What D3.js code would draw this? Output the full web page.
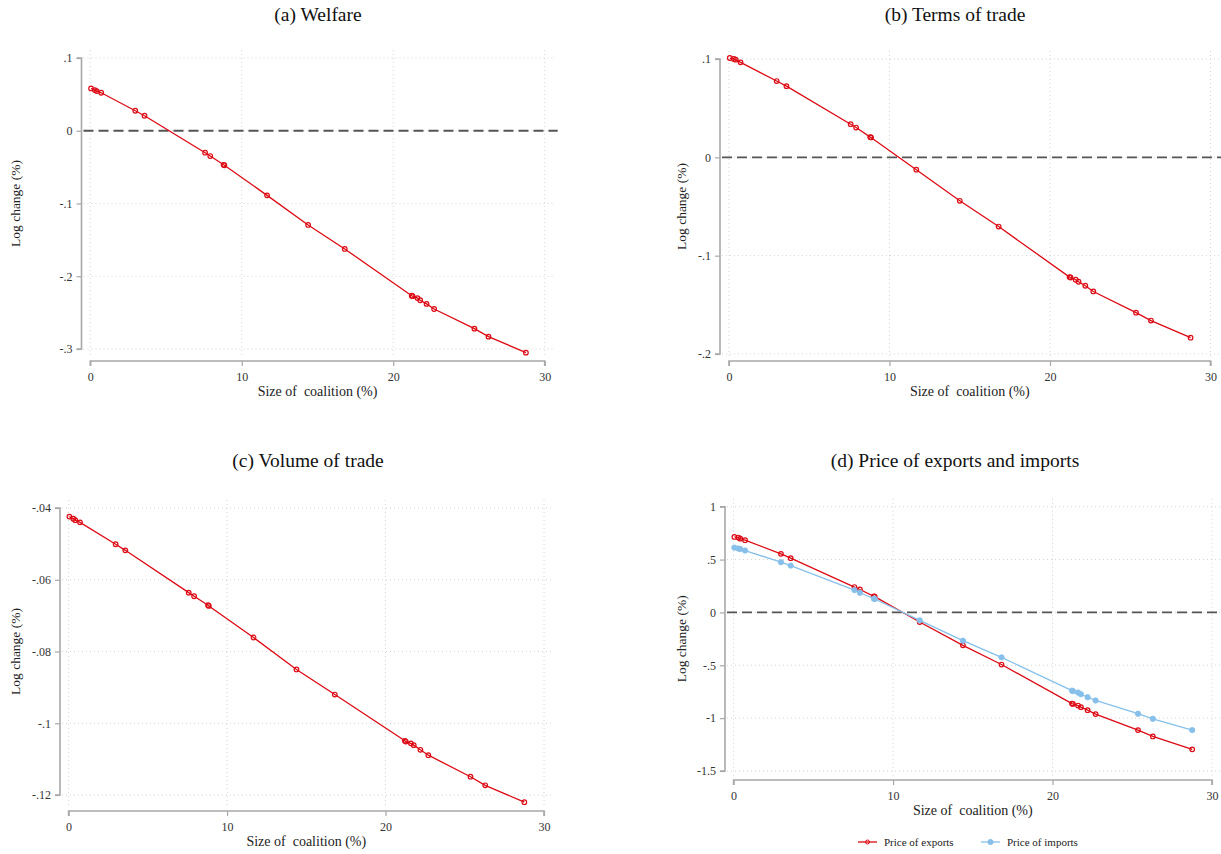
<!DOCTYPE html>
<html>
<head>
<meta charset="utf-8">
<script src="https://cdn.jsdelivr.net/npm/d3@7"></script>
<style>
  html, body { margin: 0; padding: 0; background: #fff; }
  svg { display: block; font-family: "Liberation Serif", "DejaVu Serif", serif; }
</style>
</head>
<body>
<svg id="chart" width="1221" height="854"></svg>
<script>
// Coalition size (% of world), shared by all four panels
const coalitionSize = [0.05, 0.3, 0.42, 0.72, 2.97, 3.58, 7.58, 7.92, 8.8, 8.85, 11.67, 14.38, 16.8,
  21.22, 21.28, 21.6, 21.78, 22.2, 22.7, 25.36, 26.29, 28.76];

// Log changes (%)
const welfare = [0.0582, 0.0559, 0.0545, 0.0522, 0.0275, 0.0206, -0.0302, -0.0348, -0.0468, -0.0474,
  -0.0888, -0.1295, -0.1625, -0.2268, -0.2274, -0.2300, -0.2330, -0.2380, -0.2450, -0.2720, -0.2830, -0.3050];
const termsOfTrade = [0.1010, 0.1000, 0.0993, 0.0966, 0.0776, 0.0724, 0.0337, 0.0303, 0.0206, 0.0202,
  -0.0126, -0.0442, -0.0704, -0.1218, -0.1222, -0.1245, -0.1265, -0.1306, -0.1364, -0.1580, -0.1660, -0.1834];
const volumeOfTrade = [-0.0424, -0.0430, -0.0434, -0.0440, -0.0501, -0.0518, -0.0636, -0.0646, -0.0671, -0.0673,
  -0.0761, -0.0850, -0.0920, -0.1049, -0.1051, -0.1056, -0.1061, -0.1074, -0.1089, -0.1149, -0.1173, -0.1220];
const priceExports = [0.714, 0.708, 0.698, 0.683, 0.554, 0.513, 0.240, 0.217, 0.152, 0.149,
  -0.091, -0.311, -0.493, -0.862, -0.866, -0.881, -0.896, -0.925, -0.962, -1.113, -1.173, -1.295];
const priceImports = [0.613, 0.604, 0.600, 0.585, 0.475, 0.443, 0.211, 0.186, 0.130, 0.127,
  -0.075, -0.267, -0.425, -0.740, -0.744, -0.758, -0.774, -0.802, -0.833, -0.958, -1.006, -1.113];

// Axis ticks
const xTicks = [0, 10, 20, 30];
const welfareTicks = [0.1, 0, -0.1, -0.2, -0.3];
const totTicks = [0.1, 0, -0.1, -0.2];
const volumeTicks = [-0.04, -0.06, -0.08, -0.1, -0.12];
const priceTicks = [1, 0.5, 0, -0.5, -1, -1.5];

// Text
const panelTitles = ["(a) Welfare", "(b) Terms of trade", "(c) Volume of trade", "(d) Price of exports and imports"];
const xTitle = "Size of\u00a0 coalition (%)";
const yTitle = "Log change (%)";
const legendLabels = ["Price of exports", "Price of imports"];

const RED = "#dc0a14";
const BLUE = "#86c0ea";

const svg = d3.select("#chart");

// Stata-style labels: drop the leading zero
const fmt = v => {
  const s = String(+v.toFixed(4));
  return s.replace(/^(-?)0\./, "$1.");
};

function panel(cfg) {
  const g = svg.append("g");
  const x = d3.scaleLinear().domain([0, 30]).range([cfg.x0, cfg.x30]);
  const yDom = d3.extent(cfg.yTicks);
  const y = d3.scaleLinear().domain([yDom[1], yDom[0]]).range([cfg.yTop, cfg.yBot]);

  const left = cfg.yAxisX + 2, right = cfg.x30 + 9;
  const top = cfg.yTop - 8, bottom = cfg.xAxisY - 3;

  // dotted grid
  g.append("g").selectAll("line").data(cfg.yTicks).join("line")
    .attr("x1", left).attr("x2", right)
    .attr("y1", d => y(d)).attr("y2", d => y(d))
    .attr("stroke", "#d4d4d4").attr("stroke-width", 1).attr("stroke-dasharray", "1,3");
  g.append("g").selectAll("line").data(xTicks).join("line")
    .attr("x1", d => x(d)).attr("x2", d => x(d))
    .attr("y1", top).attr("y2", bottom)
    .attr("stroke", "#d4d4d4").attr("stroke-width", 1).attr("stroke-dasharray", "1,3");

  // x axis
  const xa = g.append("g").attr("transform", `translate(0,${cfg.xAxisY})`)
    .call(d3.axisBottom(x).tickValues(xTicks).tickSize(5).tickPadding(6).tickFormat(fmt));
  // y axis
  const ya = g.append("g").attr("transform", `translate(${cfg.yAxisX},0)`)
    .call(d3.axisLeft(y).tickValues(cfg.yTicks).tickSize(5).tickPadding(4).tickFormat(fmt));
  [xa, ya].forEach(a => {
    a.select(".domain").attr("stroke", "#a8a8a8").attr("stroke-width", 1.6);
    a.selectAll(".tick line").attr("stroke", "#a8a8a8").attr("stroke-width", 1.2);
    a.selectAll(".tick text").attr("fill", "#333").style("font-size", "12px")
      .style("font-family", "'Liberation Serif', serif");
  });
  xa.select(".domain").attr("d", `M${x(0)},5V0H${x(30)}V5`);
  ya.select(".domain").attr("d", `M-5,${y(yDom[1])}H0V${y(yDom[0])}H-5`);

  // zero reference line, only where zero lies inside the value range
  if (yDom[0] <= 0 && yDom[1] >= 0) {
    g.append("line")
      .attr("x1", left).attr("x2", right + 4)
      .attr("y1", y(0)).attr("y2", y(0))
      .attr("stroke", "#555").attr("stroke-width", 1.8).attr("stroke-dasharray", "10,5");
  }

  // series
  cfg.series.forEach(s => {
    const pts = coalitionSize.map((c, i) => [c, s.values[i]]);
    g.append("path").datum(pts)
      .attr("fill", "none").attr("stroke", s.color).attr("stroke-width", 1.3)
      .attr("d", d3.line().x(d => x(d[0])).y(d => y(d[1])));
    g.append("g").selectAll("circle").data(pts).join("circle")
      .attr("cx", d => x(d[0])).attr("cy", d => y(d[1]))
      .attr("r", s.filled ? 2.7 : 2.3)
      .attr("fill", s.filled ? s.color : "none")
      .attr("stroke", s.color).attr("stroke-width", s.filled ? 0.8 : 1.2);
  });

  // titles
  g.append("text").attr("x", cfg.titleX).attr("y", cfg.titleY)
    .attr("text-anchor", "middle").attr("fill", "#111")
    .style("font-size", "19.5px").text(cfg.title);
  g.append("text").attr("x", (x(0) + x(30)) / 2).attr("y", cfg.xAxisY + 35)
    .attr("text-anchor", "middle").attr("fill", "#222")
    .style("font-size", "14px").text(xTitle);
  g.append("text")
    .attr("transform", `translate(${cfg.yTitleX},${(y(yDom[0]) + y(yDom[1])) / 2}) rotate(-90)`)
    .attr("text-anchor", "middle").attr("fill", "#222")
    .style("font-size", "13.5px").text(yTitle);
  return { x, y };
}

panel({
  title: panelTitles[0], titleX: 318, titleY: 21,
  x0: 90.3, x30: 544.7, yTop: 58, yBot: 349, xAxisY: 361, yAxisX: 81.5, yTitleX: 20,
  yTicks: welfareTicks, series: [{ values: welfare, color: RED }]
});
panel({
  title: panelTitles[1], titleX: 955, titleY: 21,
  x0: 729, x30: 1210.5, yTop: 59, yBot: 354, xAxisY: 361, yAxisX: 720, yTitleX: 686,
  yTicks: totTicks, series: [{ values: termsOfTrade, color: RED }]
});
panel({
  title: panelTitles[2], titleX: 308, titleY: 467,
  x0: 68.6, x30: 544, yTop: 508, yBot: 795, xAxisY: 811, yAxisX: 60, yTitleX: 20,
  yTicks: volumeTicks, series: [{ values: volumeOfTrade, color: RED }]
});
panel({
  title: panelTitles[3], titleX: 955, titleY: 467,
  x0: 733.6, x30: 1212, yTop: 506.7, yBot: 771, xAxisY: 780, yAxisX: 725, yTitleX: 686,
  yTicks: priceTicks,
  series: [{ values: priceExports, color: RED }, { values: priceImports, color: BLUE, filled: true }]
});

// legend for panel (d)
const legend = svg.append("g").attr("transform", "translate(858,842)");
[{ c: RED, filled: false }, { c: BLUE, filled: true }].forEach((s, i) => {
  const lg = legend.append("g").attr("transform", `translate(${i * 123},0)`);
  lg.append("line").attr("x1", 0).attr("x2", 19).attr("y1", 0).attr("y2", 0)
    .attr("stroke", s.c).attr("stroke-width", 1.3);
  lg.append("circle").attr("cx", 9.5).attr("cy", 0).attr("r", s.filled ? 2.6 : 2)
    .attr("fill", s.filled ? s.c : "none").attr("stroke", s.c).attr("stroke-width", 1);
  lg.append("text").attr("x", 26).attr("y", 4).attr("fill", "#222")
    .style("font-size", "11px").text(legendLabels[i]);
});
</script>
</body>
</html>
